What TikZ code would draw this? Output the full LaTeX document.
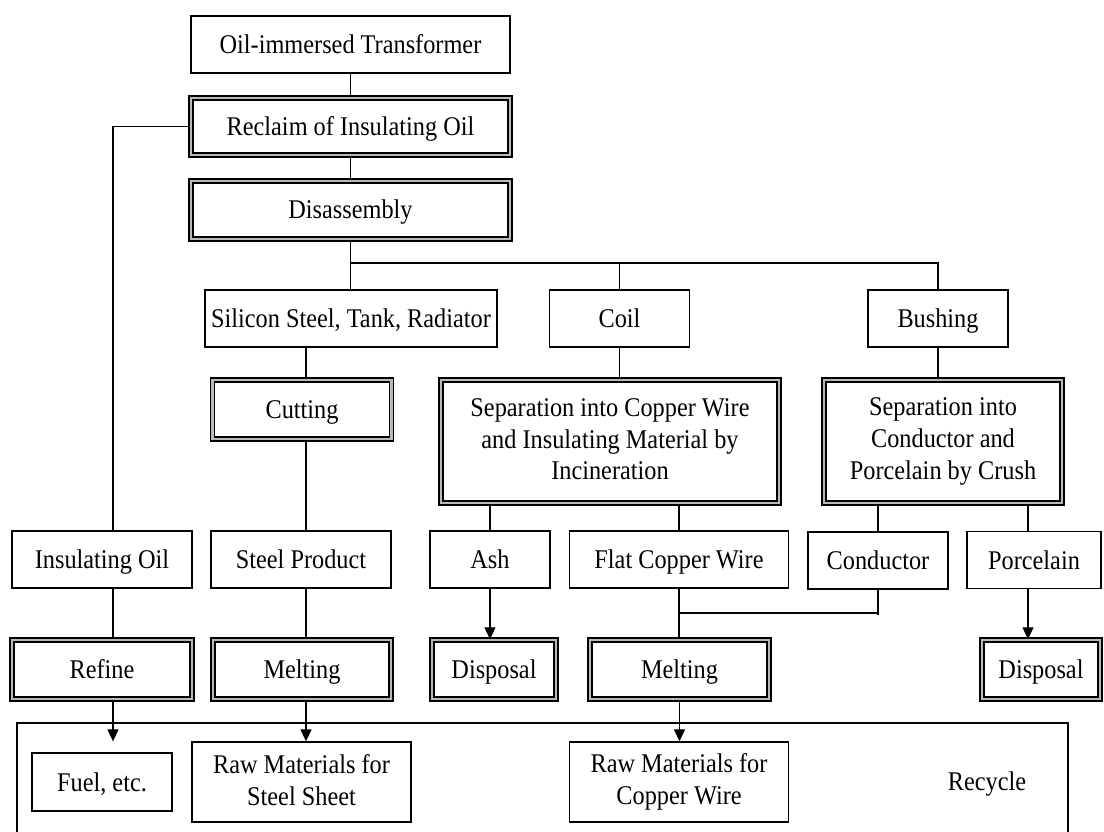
\documentclass[tikz,border=0pt]{standalone}
\usepackage{fontspec}
\setmainfont[FakeStretch=0.9]{Liberation Serif}
\usetikzlibrary{arrows.meta,calc}
\newcommand{\mystrut}{\rule[-4.5pt]{0pt}{27.5pt}}
\begin{document}
\begin{tikzpicture}[x=1pt,y=-1pt,
  txt/.style={font=\fontsize{27}{31.7}\selectfont, align=center, inner sep=0pt,
    execute at begin node=\mystrut, execute at end node=\mystrut},
  box/.style={txt, draw, line width=1.3pt, minimum height=57pt},
  dbox/.style={box, line width=1.5pt, double=gray!55, double distance=2.8pt},
  conn/.style={line width=1.2pt},
  arr/.style={conn, -{Triangle[length=12pt,width=11pt]}}]
\useasboundingbox (0,0) rectangle (1104,832);
\clip (0,0) rectangle (1104,832);
% columns
\coordinate (cA) at (113,0);
\coordinate (cB) at (306,0);
\coordinate (cP) at (1028,0);
\coordinate (bus) at (0,263);
\coordinate (j) at (0,613);
% nodes
\node[box, minimum width=319pt] (tr) at (350.5,44.5) {Oil-immersed Transformer};
\node[dbox, minimum width=319pt] (rec) at (350.5,126.5) {Reclaim of Insulating Oil};
\node[dbox, minimum width=319pt, minimum height=58pt] (dis) at (350.5,210) {Disassembly};
\node[box, minimum width=292pt] (sil) at (351,318.5) {Silicon Steel, Tank, Radiator};
\node[box, minimum width=140pt] (coil) at (619.5,318.5) {Coil};
\node[box, minimum width=140pt] (bush) at (938,318.5) {Bushing};
\node[dbox, minimum width=179pt, minimum height=59pt] (cut) at (302,409.5) {Cutting};
\node[dbox, minimum width=338pt, minimum height=123pt] (sepc) at (610,441.5) {Separation into Copper Wire\\and Insulating Material by\\Incineration};
\node[dbox, minimum width=238pt, minimum height=123pt] (sepb) at (943,441.5) {Separation into\\Conductor and\\Porcelain by Crush};
\node[box, minimum width=180pt] (oil) at (102,559.5) {Insulating Oil};
\node[box, minimum width=180pt] (steel) at (301,559.5) {Steel Product};
\node[box, minimum width=120pt] (ash) at (490,559.5) {Ash};
\node[box, minimum width=219pt] (flat) at (679,559.5) {Flat Copper Wire};
\node[box, minimum width=140pt] (cond) at (878,560.5) {Conductor};
\node[box, minimum width=134pt] (porc) at (1034,560) {Porcelain};
\node[dbox, minimum width=180pt, minimum height=59pt] (refine) at (102,669.5) {Refine};
\node[dbox, minimum width=178pt, minimum height=59pt] (melt1) at (302,669.5) {Melting};
\node[dbox, minimum width=124pt, minimum height=59pt] (disp1) at (494,669.5) {Disposal};
\node[dbox, minimum width=179pt, minimum height=59pt] (melt2) at (679.5,669.5) {Melting};
\node[dbox, minimum width=118pt, minimum height=59pt] (disp2) at (1041,669.5) {Disposal};
\node[box, minimum width=140pt, minimum height=58pt] (fuel) at (102,782) {Fuel, etc.};
\node[box, minimum width=219pt, minimum height=80pt] (raws) at (301.5,782) {Raw Materials for\\Steel Sheet};
\node[box, minimum width=219.5pt, minimum height=80pt] (rawc) at (679,782) {Raw Materials for\\Copper Wire};
\node[txt] (recy) at (987,782) {Recycle};
% recycle frame
\draw[conn] (17,845) -- (17,723) -- (1068,723) -- (1068,845);
% connectors
\draw[conn] (tr) -- (rec);
\draw[conn] (rec) -- (dis);
\draw[conn] (rec.west) -| (oil.north -| cA);
\draw[conn] (dis.south) -- (dis.south |- sil.north);
\draw[conn] (dis.south |- bus) -| (coil.north);
\draw[conn] (dis.south |- bus) -| (bush.north);
\draw[conn] (sil.south -| cB) -- (cut.north -| cB);
\draw[conn] (coil.south) -- (coil.south |- sepc.north);
\draw[conn] (bush.south) -- (bush.south |- sepb.north);
\draw[conn] (cut.south -| cB) -- (steel.north -| cB);
\draw[conn] (sepc.south -| ash.north) -- (ash.north);
\draw[conn] (sepc.south -| flat.north) -- (flat.north);
\draw[conn] (sepb.south -| cond.north) -- (cond.north);
\draw[conn] (sepb.south -| cP) -- (porc.north -| cP);
\draw[conn] (oil.south -| cA) -- (refine.north -| cA);
\draw[conn] (steel.south -| cB) -- (melt1.north -| cB);
\draw[arr] (ash.south) -- (ash.south |- disp1.north);
\draw[conn] (flat.south) -- (flat.south |- melt2.north);
\draw[conn] (cond.south) -- ($(cond.south |- j)+(0,2)$);
\draw[conn] (cond.south |- j) -- (flat.south |- j);
\draw[arr] (porc.south -| cP) -- (disp2.north -| cP);
\draw[arr] (refine.south -| cA) -- ($(fuel.north -| cA)+(0,-11)$);
\draw[arr] (melt1.south -| cB) -- (raws.north -| cB);
\draw[arr] (melt2.south) -- (melt2.south |- rawc.north);
\end{tikzpicture}
\end{document}
